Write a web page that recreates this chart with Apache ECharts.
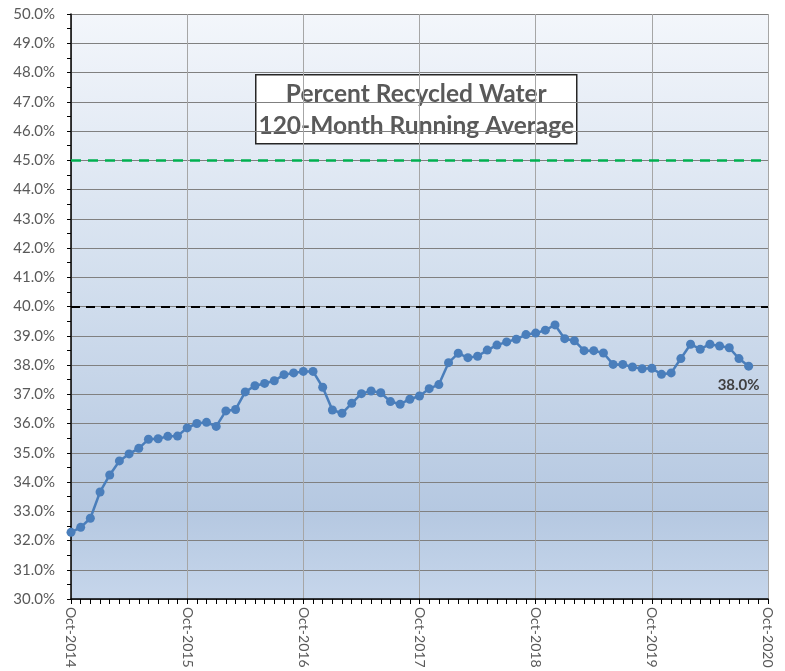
<!DOCTYPE html>
<html>
<head>
<meta charset="utf-8">
<script src="https://cdn.jsdelivr.net/npm/echarts@6/dist/echarts.min.js"></script>
<style>
  html, body { margin: 0; padding: 0; background: #fff; }
  #chart { width: 785px; height: 671px; }
</style>
</head>
<body>
<div id="chart"></div>
<script>
// 月份标签
var monthNames = ['Jan', 'Feb', 'Mar', 'Apr', 'May', 'Jun', 'Jul', 'Aug', 'Sep', 'Oct', 'Nov', 'Dec'];
var startYear = 2014;
var startMonth = 9; // Oct
var monthCount = 73; // Oct-2014 .. Oct-2020

// 120个月滚动平均 (%)
var recycled = [
  32.28, 32.45, 32.76, 33.66, 34.24, 34.72, 34.96, 35.15, 35.46, 35.48, 35.56, 35.57,
  35.85, 36.00, 36.04, 35.90, 36.43, 36.48, 37.08, 37.29, 37.37, 37.46, 37.67, 37.73,
  37.78, 37.78, 37.24, 36.46, 36.35, 36.69, 37.02, 37.11, 37.05, 36.75, 36.66, 36.83,
  36.94, 37.19, 37.33, 38.08, 38.40, 38.25, 38.30, 38.51, 38.68, 38.79, 38.88, 39.04,
  39.09, 39.19, 39.37, 38.90, 38.83, 38.49, 38.49, 38.41, 38.02, 38.02, 37.93, 37.87,
  37.89, 37.68, 37.73, 38.22, 38.71, 38.54, 38.71, 38.65, 38.59, 38.22, 37.96
];

// 参考线
var upperLimit = 45;
var lowerLimit = 40;

var titleLines = ['Percent Recycled Water', '120-Month Running Average'];

var categories = [];
for (var i = 0; i < monthCount; i++) {
  var m = (startMonth + i) % 12;
  var y = startYear + Math.floor((startMonth + i) / 12);
  categories.push(monthNames[m] + '-' + y);
}

var lastIdx = recycled.length - 1;
var seriesData = recycled.map(function (v, idx) {
  if (idx === lastIdx) {
    return {
      value: v,
      label: {
        show: true,
        position: 'bottom',
        offset: [-10, 2],
        formatter: function (p) { return p.value.toFixed(1) + '%'; },
        color: '#404040',
        fontWeight: 'bold',
        fontSize: 15,
        fontFamily: 'Lato'
      }
    };
  }
  return v;
});

var chart = echarts.init(document.getElementById('chart'));

var option = {
  animation: false,
  textStyle: { fontFamily: 'Lato' },
  grid: {
    left: 71,
    right: 17,
    top: 14,
    bottom: 72,
    outerBoundsMode: 'none',
    containLabel: false,
    show: true,
    borderWidth: 0,
    backgroundColor: {
      type: 'linear', x: 0, y: 0, x2: 0, y2: 1,
      colorStops: [
        { offset: 0, color: '#f3f6fb' },
        { offset: 0.45, color: '#d3dfee' },
        { offset: 0.85, color: '#b5c8e1' },
        { offset: 1, color: '#c6d6eb' }
      ]
    }
  },
  xAxis: {
    type: 'category',
    data: categories,
    boundaryGap: false,
    axisLine: { lineStyle: { color: '#000', width: 1.5 } },
    axisTick: {
      show: true,
      interval: 0,
      length: 5,
      lineStyle: { color: '#000' }
    },
    axisLabel: {
      interval: function (idx) { return idx % 12 === 0; },
      rotate: -90,
      color: '#595959',
      fontSize: 14,
      margin: 8
    },
    splitLine: {
      show: true,
      interval: function (idx) { return idx % 12 === 0; },
      lineStyle: { color: '#a6a6a6', width: 1 }
    }
  },
  yAxis: {
    type: 'value',
    min: 30,
    max: 50,
    interval: 1,
    axisLine: { show: true, lineStyle: { color: '#000', width: 1.5 } },
    axisTick: { show: true, length: 4, lineStyle: { color: '#000' } },
    minorTick: { show: true, splitNumber: 2, length: 4, lineStyle: { color: '#000' } },
    axisLabel: {
      color: '#595959',
      fontSize: 15,
      margin: 16,
      formatter: function (v) { return v.toFixed(1) + '%'; }
    },
    splitLine: { show: true, lineStyle: { color: '#808080', width: 1.2 } }
  },
  series: [
    {
      type: 'line',
      data: seriesData,
      symbol: 'circle',
      symbolSize: 9,
      showSymbol: true,
      showAllSymbol: true,
      lineStyle: { color: '#4a7ebb', width: 2.5 },
      itemStyle: { color: '#4a7ebb' },
      markLine: {
        silent: true,
        symbol: 'none',
        label: { show: false },
        data: [
          { yAxis: upperLimit, lineStyle: { color: '#00b050', type: [10, 7], width: 2.5 } },
          { yAxis: lowerLimit, lineStyle: { color: '#000', type: [9, 6], width: 2 } }
        ]
      },
      z: 5
    }
  ],
  graphic: [
    {
      type: 'group',
      left: 255,
      top: 74,
      children: [
        {
          type: 'rect',
          shape: { x: 0, y: 0, width: 321, height: 69 },
          style: { fill: '#fff', stroke: '#262626', lineWidth: 1.5 }
        },
        {
          type: 'text',
          x: 160.5,
          y: 35,
          style: {
            text: titleLines.join('\n'),
            fill: '#595959',
            font: 'bold 24.5px Lato',
            lineHeight: 32,
            align: 'center',
            verticalAlign: 'middle'
          }
        }
      ]
    }
  ]
};

chart.setOption(option);
</script>
</body>
</html>
